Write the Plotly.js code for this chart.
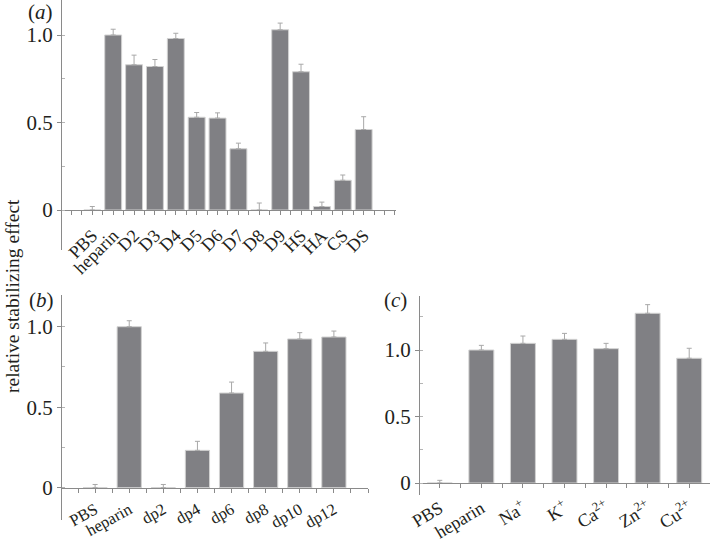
<!DOCTYPE html>
<html>
<head>
<meta charset="utf-8">
<script src="https://cdn.plot.ly/plotly-3.0.1.min.js"></script>
<style>
  html, body { margin: 0; padding: 0; background: #fff; }
  #chart { width: 710px; height: 542px; }
</style>
</head>
<body>
<div id="chart"></div>
<script>
// panel (a): heparin fragments and other glycosaminoglycans
const catsA = ['PBS', 'heparin', 'D2', 'D3', 'D4', 'D5', 'D6', 'D7', 'D8', 'D9', 'HS', 'HA', 'CS', 'DS'];
const valsA = [0, 1.0, 0.83, 0.82, 0.98, 0.53, 0.525, 0.35, 0, 1.03, 0.79, 0.02, 0.17, 0.46];
const errA = [0.02, 0.033, 0.055, 0.04, 0.03, 0.027, 0.03, 0.032, 0.04, 0.038, 0.043, 0.025, 0.03, 0.073];

// panel (b): degree of polymerisation
const catsB = ['PBS', 'heparin', 'dp2', 'dp4', 'dp6', 'dp8', 'dp10', 'dp12'];
const valsB = [0, 1.0, 0, 0.232, 0.588, 0.847, 0.924, 0.936];
const errB = [0.02, 0.037, 0.02, 0.056, 0.068, 0.052, 0.039, 0.037];

// panel (c): metal ions
const catsC = ['PBS', 'heparin', 'Na<sup>+</sup>', 'K<sup>+</sup>', 'Ca<sup>2+</sup>', 'Zn<sup>2+</sup>', 'Cu<sup>2+</sup>'];
const valsC = [0, 1.0, 1.05, 1.08, 1.01, 1.276, 0.938];
const errC = [0.02, 0.035, 0.055, 0.045, 0.04, 0.065, 0.075];

// y tick labels shared by the three panels
const yTickVals = [0, 0.5, 1];
const yTickText = ['0', '0.5', '1.0'];

const W = 710, H = 542;
const FONT = "'Liberation Serif', 'Times New Roman', serif";
const TXT = '#231f20';
const AXC = '#8a8a8a';

// pixel helpers (margins are zero so the paper is the whole page)
const px = p => p / W;
const py = p => 1 - p / H;

/**
* Build one bar trace with upper-only error bars.
*/
function barTrace(cats, vals, errs, width, xa, ya) {
    return {
        type: 'bar',
        x: cats.map((c, i) => i),
        y: vals,
        width: width,
        xaxis: xa, yaxis: ya,
        marker: { color: '#808084', line: { color: '#d2d2d2', width: 1 } },
        error_y: {
            type: 'data', symmetric: false,
            array: errs, arrayminus: errs.map(() => 0),
            color: '#a8a8a8', thickness: 1, width: 2.5
        },
        hoverinfo: 'skip'
    };
}

/**
* x axis sitting on the zero line of its panel.
*/
function xAxis(cats, left, right, zeroPx, range, angle, size, standoff) {
    return {
        domain: [px(left), px(right)],
        anchor: 'free', position: py(zeroPx),
        range: range, fixedrange: true,
        tickmode: 'array', tickvals: cats.map((c, i) => i), ticktext: cats,
        tickangle: angle, ticklabelstandoff: standoff,
        ticks: 'outside', ticklen: 4, tickcolor: AXC, tickwidth: 1,
        minor: { dtick: 0.5, tick0: 0, ticks: 'outside', ticklen: 4, tickcolor: AXC },
        showline: true, linecolor: AXC, linewidth: 1,
        showgrid: false, zeroline: false,
        tickfont: { family: FONT, size: size, color: TXT }
    };
}

/**
* y axis: top pixel, zero pixel, bottom pixel and pixels per unit.
*/
function yAxis(left, top, zero, bottom, unit) {
    return {
        domain: [py(bottom), py(top)],
        anchor: 'free', position: px(left),
        range: [-(bottom - zero) / unit, (zero - top) / unit], fixedrange: true,
        tickmode: 'array', tickvals: yTickVals, ticktext: yTickText,
        ticks: 'outside', ticklen: 4, tickcolor: AXC, tickwidth: 1,
        minor: { dtick: 0.25, tick0: 0, ticks: 'inside', ticklen: 3, tickcolor: '#b5b5b5' },
        showline: true, linecolor: AXC, linewidth: 1,
        showgrid: false, zeroline: false,
        tickfont: { family: FONT, size: 21, color: TXT }
    };
}

const data = [
    barTrace(catsA, valsA, errA, 0.81, 'x', 'y'),
    barTrace(catsB, valsB, errB, 0.71, 'x2', 'y2'),
    barTrace(catsC, valsC, errC, 0.6, 'x3', 'y3')
];

const panelLabel = (txt, x, y) => ({
    text: txt, xref: 'paper', yref: 'paper', x: px(x), y: py(y),
    xanchor: 'center', yanchor: 'middle', showarrow: false,
    font: { family: FONT, size: 21, color: TXT }
});

const layout = {
    width: W, height: H,
    margin: { l: 0, r: 0, t: 0, b: 0 },
    paper_bgcolor: '#fff', plot_bgcolor: 'rgba(0,0,0,0)',
    showlegend: false,
    xaxis: xAxis(catsA, 61, 396, 210, [-1.5, 14.55], -45, 18, 3),
    yaxis: yAxis(61, 0, 210, 250, 175),
    xaxis2: xAxis(catsB, 61, 368, 487.7, [-1, 8], -29, 16.5, 1),
    yaxis2: yAxis(61, 294.5, 487.7, 520, 161),
    xaxis3: xAxis(catsC, 419, 710, 483, [-0.5, 6.5], -31, 18, 3),
    yaxis3: yAxis(419, 296, 483, 495, 133),
    annotations: [
        panelLabel('(<i>a</i>)', 40, 12),
        panelLabel('(<i>b</i>)', 41, 300),
        panelLabel('(<i>c</i>)', 395, 300),
        {
            text: 'relative stabilizing effect', xref: 'paper', yref: 'paper',
            x: px(12), y: py(296), textangle: -90,
            xanchor: 'center', yanchor: 'middle', showarrow: false,
            font: { family: FONT, size: 19.5, color: TXT }
        }
    ]
};

Plotly.newPlot('chart', data, layout, { staticPlot: true, displayModeBar: false });
</script>
</body>
</html>
